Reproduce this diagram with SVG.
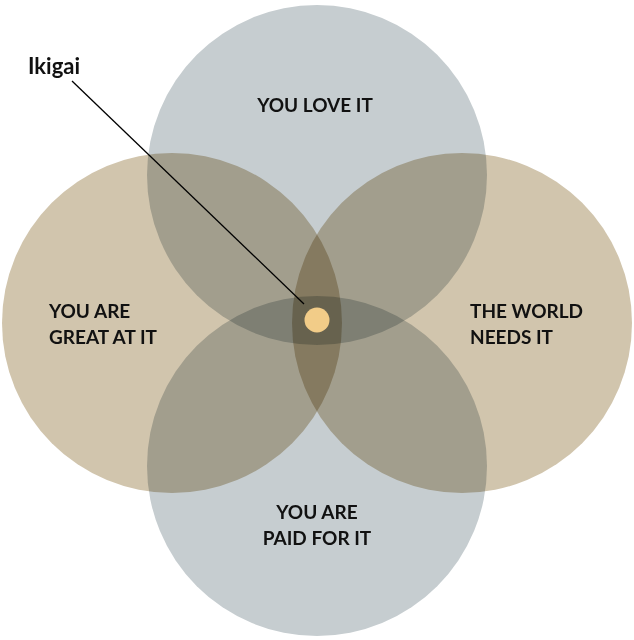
<svg xmlns="http://www.w3.org/2000/svg" width="634" height="640" viewBox="0 0 634 640">
  <style>
    .blue { fill: #c6cdd0; mix-blend-mode: multiply; }
    .tan { fill: #d1c5ad; mix-blend-mode: multiply; }
    .lbl { font-family: Lato, "Liberation Sans", sans-serif; font-weight: bold; font-size: 19px; fill: #111; }
    .ttl { font-family: Lato, "Liberation Sans", sans-serif; font-weight: bold; font-size: 22px; fill: #111; }
  </style>
  <rect x="0" y="0" width="634" height="640" fill="#ffffff"/>
  <g id="circle-love">
    <circle class="blue" cx="317" cy="175" r="170"/>
  </g>
  <g id="circle-paid">
    <circle class="blue" cx="317" cy="466" r="170"/>
  </g>
  <g id="circle-great">
    <circle class="tan" cx="172" cy="323" r="170"/>
  </g>
  <g id="circle-world">
    <circle class="tan" cx="462" cy="323" r="170"/>
  </g>
  <g id="labels">
    <text class="lbl" x="315" y="112" text-anchor="middle">YOU LOVE IT</text>
    <text class="lbl" x="49" y="318">YOU ARE</text>
    <text class="lbl" x="49" y="344">GREAT AT IT</text>
    <text class="lbl" x="470" y="318">THE WORLD</text>
    <text class="lbl" x="470" y="344">NEEDS IT</text>
    <text class="lbl" x="317" y="519" text-anchor="middle">YOU ARE</text>
    <text class="lbl" x="317" y="545" text-anchor="middle">PAID FOR IT</text>
  </g>
  <g id="connectors">
    <line x1="72" y1="81" x2="304" y2="304" stroke="#000" stroke-width="1.3"/>
  </g>
  <g id="ikigai">
    <circle cx="317" cy="320" r="12.5" fill="#f2cc88"/>
    <text class="ttl" x="28" y="74">Ikigai</text>
  </g>
</svg>
